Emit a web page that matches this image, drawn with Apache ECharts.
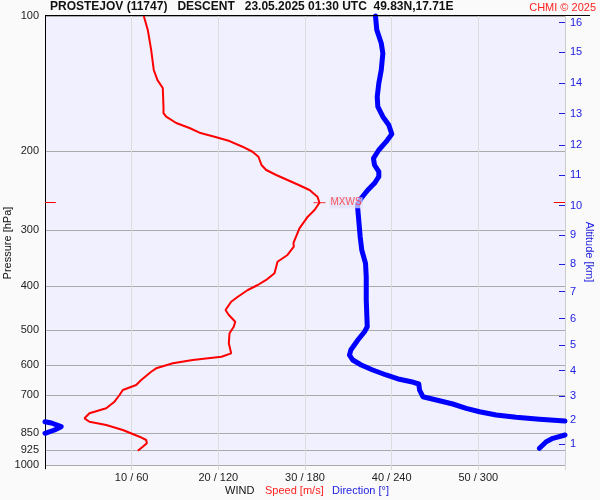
<!DOCTYPE html>
<html><head><meta charset="utf-8">
<script src="https://cdn.jsdelivr.net/npm/echarts@6/dist/echarts.min.js"></script>
<style>html,body{margin:0;padding:0;background:#fafafa}#c{width:600px;height:500px}</style>
</head><body><div id="c"></div>
<script>
// ---- data ----
const speedPressure = [100,107.4,119,131.9,138.9,144.7,159.2,164.5,167.6,173.1,177.6,181.9,185.7,189.9,195.5,200.6,205.8,214.7,220.3,226,231.9,237.9,244.1,252.6,260.5,270.4,279.9,297.1,320.3,326.5,340.6,352.6,374.2,387.2,397.3,407.6,421.9,432.8,451.7,463.4,479.6,492,509,535.8,564,573.9,583.7,593.6,609.1,619.8,646.7,663.5,680.7,698.4,722.8,747.7,767.1,787.1,800.9,814.6,835.7,865,879.7,894.7,910.5,929.3];
const speedValues = [11.4,11.86,12.25,12.55,12.98,13.59,13.67,13.67,13.98,15.14,16.67,17.83,19.56,21.29,22.79,23.94,24.63,24.98,25.52,26.68,27.98,29.28,30.52,31.44,31.67,31.1,30.32,29.36,28.67,28.71,27.98,26.83,26.48,25.52,24.55,23.4,22.25,21.48,20.83,21.21,21.95,21.78,21.29,21.21,21.48,20.37,17.05,14.75,12.83,12.25,11.1,10.52,8.98,8.6,8.02,7.06,5.13,4.56,5.13,7.06,8.98,10.9,11.68,11.75,11.28,10.71];
const dirPressure = [100,107.4,115,121.1,131.9,141.2,151.3,159.2,167.6,174.9,183.2,190.5,198.8,207.5,214.7,222.2,228,235.8,244.1,254.7,263.6,279.9,310.1,332,355.5,380.7,429.1,492,504.8,526.8,554.5,568.9,583.7,598.8,614.4,630.3,644.4,652.4,660.1,680.7,704.5,719.1,731.4,747.7,760.9,773.9,783,791.1,798.1,800.9,806.3,821.7,835.7,849.9,857.4,872.1,887.4,917.9];
const dirValues = [228.8,229.7,232.8,233.9,232.8,231.1,230,230.4,233.9,238,240.1,236.2,231.1,227.4,228.1,231.1,231.1,228.1,223.5,218.9,216.3,217,218.2,219.3,221.9,222.4,222.4,223.1,221.2,216.6,211.7,210.8,213.1,218.9,226.9,236.2,245.4,253.5,258.8,259.3,261.6,273.1,282.3,291.6,300.8,312.4,326.2,342.3,360,0,4.5,11.2,6.6,0,360,351.6,347,342.3];
const mxwsPressure = 260.5;
const mxwsSpeed = 31.67;
const pressureTicks = [100,200,300,400,500,600,700,850,925,1000];
const altitudeKm = [1,2,3,4,5,6,7,8,9,10,11,12,13,14,15,16];
const altitudePressure = [898.7,795,701.2,616.6,540.5,472.2,411,356.5,308,264.4,226.3,193.9,165,141,120.4,103.5];
const speedTicks = [10,20,30,40,50];
const dirTicks = [60,120,180,240,300];
const speedMax = 60, dirMax = 360;

// ---- build series data ----
const speedData = speedPressure.map((p,i)=>[speedValues[i], p]);
const dirData = [];
dirPressure.forEach((p,i)=>{
  if (i>0 && Math.abs(dirValues[i]-dirValues[i-1])>180) dirData.push([null,null]);
  dirData.push([dirValues[i]*speedMax/dirMax, p]);
});

const chart = echarts.init(document.getElementById('c'), null, {renderer:'canvas'});
const FONT = 'Liberation Sans, Arial, sans-serif';
chart.setOption({
  backgroundColor:'#fafafa',
  animation:false,
  grid:{left:45,right:35,top:16,bottom:35,show:true,backgroundColor:'#f0f0fe',borderWidth:0},
  xAxis:{type:'value',min:0,max:speedMax,interval:10,
    axisLine:{show:false},
    axisTick:{show:true,length:5,lineStyle:{color:'#d8d8d8'}},
    splitLine:{show:true,lineStyle:{color:'#dcdcdc',width:1}},
    axisLabel:{margin:7,fontSize:11,fontFamily:FONT,color:'#222',
      formatter:v=>{const i=speedTicks.indexOf(v);return i<0?'':speedTicks[i]+' / '+dirTicks[i];}}
  },
  yAxis:[
    {type:'log',logBase:10,min:100,max:1000,inverse:true,position:'left',
     axisLine:{show:true,lineStyle:{color:'#000',width:1}},
     axisTick:{show:false,customValues:pressureTicks},
     splitLine:{show:true,lineStyle:{color:'#aaaaaa',width:1}},
     axisLabel:{customValues:pressureTicks,margin:6,fontSize:11,fontFamily:FONT,color:'#222',formatter:v=>String(Math.round(v))}
    },
    {type:'log',logBase:10,min:100,max:1000,inverse:true,position:'right',
     axisLine:{show:true,lineStyle:{color:'#cccccc',width:1}},
     axisTick:{show:true,inside:true,length:6,customValues:altitudePressure,lineStyle:{color:'#2020e0',width:1}},
     splitLine:{show:false},
     axisLabel:{customValues:altitudePressure,margin:5,fontSize:11,fontFamily:FONT,color:'#2020e0',
       formatter:v=>{let best=0,bd=1e9;altitudePressure.forEach((p,i)=>{const d=Math.abs(p-v);if(d<bd){bd=d;best=i;}});return String(altitudeKm[best]);}}
    }
  ],
  series:[
    {type:'line',name:'dir',data:dirData,yAxisIndex:0,showSymbol:false,connectNulls:false,clip:false,
     lineStyle:{color:'#0000ff',width:5,cap:'round',join:'round'},z:3},
    {type:'line',name:'speed',data:speedData,yAxisIndex:0,showSymbol:false,
     lineStyle:{color:'#ff0000',width:2},z:4},
    {type:'scatter',name:'mxws',data:[[mxwsSpeed,mxwsPressure]],yAxisIndex:0,symbol:'rect',symbolSize:[12,1],
     itemStyle:{color:'#ff0000'},z:5,
     label:{show:true,position:'right',distance:4,formatter:'MXWS',color:'#ff3030',fontSize:10,fontFamily:FONT,
       backgroundColor:'rgba(225,225,250,0.9)',padding:[1,1,0,1]},
     markLine:{silent:true,symbol:'none',label:{show:false},lineStyle:{color:'#ff0000',width:1,type:'solid'},
       data:[[{coord:[0,mxwsPressure]},{coord:[1.25,mxwsPressure]}],[{coord:[58.7,mxwsPressure]},{coord:[60,mxwsPressure]}]]}
    }
  ],
  graphic:[
    {type:'line',shape:{x1:45,y1:15.5,x2:590,y2:15.5},style:{stroke:'#000',lineWidth:1},z:100},
    {type:'line',shape:{x1:45.5,y1:465,x2:45.5,y2:469},style:{stroke:'#000',lineWidth:1},z:100},
    {type:'text',left:50,top:1,style:{text:'PROSTEJOV (11747)   DESCENT   23.05.2025 01:30 UTC  49.83N,17.71E',font:'bold 12px '+FONT,fill:'#111'}},
    {type:'text',right:4,top:2,style:{text:'CHMI © 2025',font:'11px '+FONT,fill:'#ff2020'}},
    {type:'text',left:225,top:485,style:{text:'WIND',font:'11px '+FONT,fill:'#111'}},
    {type:'text',left:265,top:485,style:{text:'Speed [m/s]',font:'11px '+FONT,fill:'#ff2020'}},
    {type:'text',left:332,top:485,style:{text:'Direction [°]',font:'11px '+FONT,fill:'#2020e0'}},
    {type:'text',x:8,y:243,rotation:Math.PI/2,style:{text:'Pressure [hPa]',font:'11px '+FONT,fill:'#111',textAlign:'center',textVerticalAlign:'middle'}},
    {type:'text',x:589,y:252,rotation:-Math.PI/2,style:{text:'Altitude [km]',font:'11px '+FONT,fill:'#2020e0',textAlign:'center',textVerticalAlign:'middle'}}
  ]
});
</script></body></html>
